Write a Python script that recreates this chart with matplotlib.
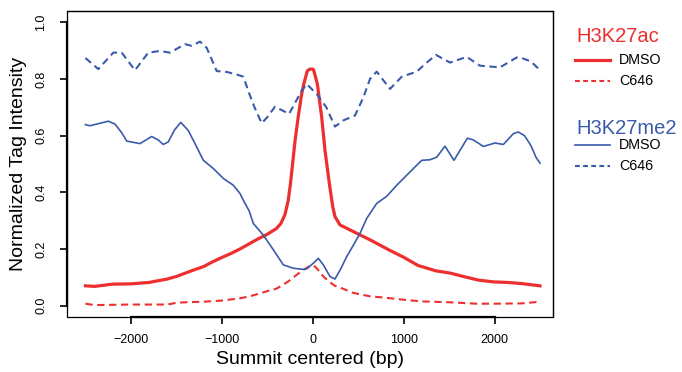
import matplotlib
matplotlib.use("Agg")
import matplotlib.pyplot as plt
from matplotlib.lines import Line2D

plt.rcParams['font.family'] = ['Liberation Sans', 'DejaVu Sans']

# H3K27ac, DMSO
ac_dmso_x = [-2500, -2400, -2300, -2200, -2000, -1800, -1600, -1500, -1400, -1300, -1200,
             -1100, -1000, -900, -800, -700, -600, -500, -400, -350, -305, -270, -245, -215,
             -195, -158, -120, -96, -59, -30, 0, 10, 51, 99, 135, 183, 220, 245, 300, 450,
             645, 843, 1000, 1157, 1354, 1512, 1669, 1827, 1984, 2142, 2299, 2476, 2500]
ac_dmso_y = [0.070, 0.068, 0.072, 0.076, 0.077, 0.082, 0.094, 0.103, 0.115, 0.127, 0.138,
             0.155, 0.170, 0.184, 0.200, 0.218, 0.236, 0.252, 0.272, 0.290, 0.322, 0.370, 0.430, 0.520,
             0.580, 0.670, 0.750, 0.785, 0.829, 0.835, 0.835, 0.832, 0.782, 0.665, 0.548, 0.431, 0.350, 0.314, 0.285, 0.261,
             0.230, 0.196, 0.171, 0.142, 0.123, 0.115, 0.102, 0.090, 0.084, 0.082, 0.078, 0.071, 0.070]

# H3K27ac, C646
ac_c646_x = [-2500, -2400, -2200, -2000, -1800, -1600, -1500, -1400, -1200, -1000, -800, -690,
             -513, -400, -323, -250, -176, -100, -30, 7, 50, 117, 200, 245, 300, 447, 630, 800,
             1000, 1200, 1500, 1800, 2000, 2300, 2500]
ac_c646_y = [0.007, 0.002, 0.003, 0.004, 0.004, 0.004, 0.010, 0.012, 0.014, 0.018, 0.026, 0.033,
             0.050, 0.060, 0.074, 0.090, 0.109, 0.127, 0.140, 0.143, 0.130, 0.103, 0.080, 0.070, 0.064, 0.045, 0.033, 0.028,
             0.021, 0.015, 0.012, 0.007, 0.007, 0.008, 0.014]

# H3K27me2, DMSO
me2_dmso_x = [-2500, -2450, -2350, -2249, -2175, -2100, -2046, -1950, -1900, -1771, -1700, -1644,
              -1589, -1520, -1452, -1368, -1295, -1203, -1093, -983, -873, -800, -763, -700, -653,
              -543, -433, -323, -213, -100, -66, 7, 62, 117, 190, 245, 300, 374, 450, 520, 594,
              704, 814, 924, 1070, 1199, 1290, 1364, 1455, 1554, 1620, 1701, 1767, 1877, 2005,
              2097, 2207, 2262, 2330, 2400, 2457, 2500]
me2_dmso_y = [0.639, 0.635, 0.643, 0.651, 0.641, 0.610, 0.581, 0.575, 0.572, 0.597, 0.585, 0.569,
              0.578, 0.620, 0.647, 0.618, 0.572, 0.513, 0.484, 0.449, 0.425, 0.396, 0.372, 0.335, 0.290,
              0.249, 0.197, 0.144, 0.132, 0.128, 0.130, 0.150, 0.167, 0.144, 0.103, 0.094, 0.125, 0.173, 0.215, 0.255, 0.308,
              0.361, 0.386, 0.425, 0.472, 0.513, 0.515, 0.524, 0.563, 0.513, 0.548, 0.591, 0.585, 0.562, 0.574,
              0.569, 0.607, 0.613, 0.600, 0.565, 0.523, 0.503]

# H3K27me2, C646
me2_c646_x = [-2500, -2359, -2193, -2101, -1955, -1809, -1680, -1570, -1405, -1331, -1240, -1166,
              -1056, -946, -818, -763, -700, -640, -561, -500, -415, -340, -260, -121, -66, 44,
              150, 245, 337, 465, 557, 630, 704, 850, 979, 1144, 1254, 1356, 1510, 1694, 1840,
              2060, 2244, 2300, 2400, 2500]
me2_c646_y = [0.874, 0.835, 0.893, 0.893, 0.831, 0.893, 0.899, 0.893, 0.923, 0.917, 0.932, 0.910,
              0.828, 0.825, 0.814, 0.808, 0.750, 0.700, 0.644, 0.665, 0.702, 0.690, 0.677, 0.759, 0.782, 0.747,
              0.700, 0.632, 0.654, 0.671, 0.735, 0.800, 0.826, 0.765, 0.808, 0.826, 0.858, 0.885, 0.858, 0.878, 0.847,
              0.841, 0.876, 0.874, 0.862, 0.831]

red = '#EE2F2F'
blue = '#3A5BAA'

fig = plt.figure(figsize=(6.82, 3.72), dpi=100)
ax = fig.add_axes([66.7 / 682, 55 / 372, (553 - 66.7) / 682, 306 / 372])

ax.plot(ac_dmso_x, ac_dmso_y, color=red, lw=2.3, solid_joinstyle='round')
ax.plot(ac_c646_x, ac_c646_y, color=red, lw=1.5, dashes=(3.5, 2.2))
ax.plot(me2_dmso_x, me2_dmso_y, color=blue, lw=1.2, solid_joinstyle='round')
ax.plot(me2_c646_x, me2_c646_y, color=blue, lw=1.5, dashes=(3.5, 2.2))

ax.set_xlim(-2706, 2643)
ax.set_ylim(-0.04, 1.04)
ax.set_xticks([-2000, -1000, 0, 1000, 2000])
ax.set_yticks([0.0, 0.2, 0.4, 0.6, 0.8, 1.0])
ax.set_yticklabels(['0.0', '0.2', '0.4', '0.6', '0.8', '1.0'], rotation=90, va='center')
ax.tick_params(axis='x', length=5, width=1.2, pad=7, labelsize=9)
ax.tick_params(axis='y', length=5, width=1.2, pad=9, labelsize=9)

# R style: thin box plus heavy axis lines over the tick range
for s in ['top', 'right']:
    ax.spines[s].set_linewidth(0.9)
ax.spines['left'].set_linewidth(1.6)
ax.spines['bottom'].set_linewidth(1.6)
ax.spines['left'].set_bounds(0, 1)
ax.spines['bottom'].set_bounds(-2000, 2000)
ax.patch.set_edgecolor('black')
ax.patch.set_linewidth(0.9)

fig.text(19 / 682, 1 - 164 / 372, 'Normalized Tag Intensity', rotation=90,
         ha='center', va='center', fontsize=14)
fig.text(310 / 682, 1 - 360 / 372, 'Summit centered (bp)', ha='center', va='center', fontsize=14)

# legend
def legend_row(y, color, lw, dashed, label):
    yy = 1 - y / 372
    ln = Line2D([575 / 682, 610 / 682], [yy, yy], transform=fig.transFigure, color=color, lw=lw)
    if dashed:
        ln.set_dashes((2.3, 1.6))
    fig.lines.append(ln)
    fig.text(619 / 682, yy, label, ha='left', va='center', fontsize=10.3)

fig.text(576 / 682, 1 - 36 / 372, 'H3K27ac', color=red, ha='left', va='center', fontsize=14.5)
legend_row(60, red, 2.3, False, 'DMSO')
legend_row(81, red, 1.5, True, 'C646')
fig.text(576 / 682, 1 - 128 / 372, 'H3K27me2', color=blue, ha='left', va='center', fontsize=14.5)
legend_row(145, blue, 1.2, False, 'DMSO')
legend_row(166, blue, 1.5, True, 'C646')

fig.savefig('out.png', dpi=100)
